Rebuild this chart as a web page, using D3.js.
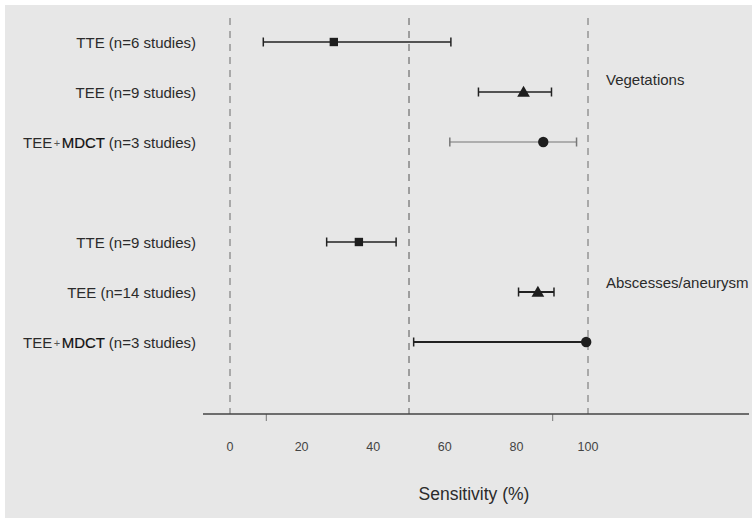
<!DOCTYPE html>
<html>
<head>
<meta charset="utf-8">
<script src="https://cdn.jsdelivr.net/npm/d3@7"></script>
<style>
  body { margin: 0; background: #fff; }
  text { font-family: "Liberation Sans", Arial, sans-serif; fill: #2b2b2b; }
</style>
</head>
<body>
<svg id="svg"></svg>
<script>
var width = 752, height = 519;

// rows, top group then bottom group
var labels = ["TTE (n=6 studies)", "TEE (n=9 studies)", "TEE+MDCT (n=3 studies)",
              "TTE (n=9 studies)", "TEE (n=14 studies)", "TEE+MDCT (n=3 studies)"];
var rowPos = [1, 2, 3, 5, 6, 7];
var estimate = [29, 82, 87.5, 36, 86, 99.5];
var lower = [9.3, 69.4, 61.4, 27, 80.6, 51.3];
var upper = [61.7, 89.8, 96.8, 46.4, 90.5, 99.5];
var markers = ["square", "triangle", "circle", "square", "triangle", "circle"];
var groups = ["Vegetations", "Abscesses/aneurysm"];
var groupRow = [1.75, 5.8];
var tickLabels = [0, 20, 40, 60, 80, 100];
var axisTicks = [10, 90];
var refLines = [0, 50, 100];

var svg = d3.select("#svg").attr("width", width).attr("height", height);

svg.append("rect").attr("x", 5).attr("y", 5).attr("width", width - 5).attr("height", height - 6)
    .attr("fill", "#e7e7e7");

var xScale = d3.scaleLinear().domain([0, 100]).range([230, 588]);
var yScale = d3.scaleLinear().domain([1, 7]).range([42, 342]);
var axisY = 414;

// dashed reference lines
svg.selectAll(".ref").data(refLines).enter().append("line")
    .attr("x1", d => xScale(d)).attr("x2", d => xScale(d))
    .attr("y1", 18).attr("y2", axisY)
    .attr("stroke", d => d == 50 ? "#555" : "#888")
    .attr("stroke-width", d => d == 50 ? 1 : 1.3)
    .attr("stroke-dasharray", "7,6");

// axis
var xAxis = svg.append("g").attr("transform", `translate(0, ${axisY})`)
    .call(d3.axisBottom(xScale).tickValues(axisTicks).tickSize(7).tickFormat(""));
xAxis.select(".domain").remove();
xAxis.selectAll(".tick line").attr("stroke", "#777");
svg.append("line").attr("x1", 203).attr("x2", 749).attr("y1", axisY).attr("y2", axisY)
    .attr("stroke", "#444").attr("stroke-width", 1.3);

svg.selectAll(".tl").data(tickLabels).enter().append("text")
    .attr("x", d => xScale(d)).attr("y", 451)
    .attr("text-anchor", "middle").attr("font-size", 12.5).style("fill", "#444")
    .text(d => d);

svg.append("text").attr("x", 474).attr("y", 500).attr("text-anchor", "middle")
    .attr("font-size", 17.5).text("Sensitivity (%)");

// row labels
labels.forEach((lab, i) => {
    var t = svg.append("text").attr("x", 196).attr("y", yScale(rowPos[i]) + 5.5)
        .attr("text-anchor", "end").attr("font-size", 15);
    if (lab.indexOf("+") >= 0) {
        var parts = lab.split("+");
        t.append("tspan").text(parts[0]);
        t.append("tspan").attr("font-size", 11).attr("dx", 1.5).attr("dy", -1).style("fill", "#555").text("+");
        t.append("tspan").attr("dx", 1.5).attr("dy", 1).style("fill", "#111")
            .style("stroke", "#111").style("stroke-width", 0.2)
            .text(parts[1].split(" ")[0]);
        t.append("tspan").text(" " + parts[1].split(" ").slice(1).join(" "));
    } else {
        t.text(lab);
    }
});

// group labels
svg.selectAll(".grp").data(groups).enter().append("text")
    .attr("x", 606).attr("y", (d, i) => yScale(groupRow[i]) + 5.5)
    .attr("font-size", 15).text(d => d);

// error bars
var lineColor = ["#222", "#222", "#777", "#222", "#222", "#222"];
var lineW = [1.3, 1.6, 1.2, 1.4, 2, 2.2];
rowPos.forEach((r, i) => {
    var y = yScale(r);
    var c = lineColor[i];
    svg.append("line").attr("x1", xScale(lower[i])).attr("x2", xScale(upper[i]))
        .attr("y1", y).attr("y2", y).attr("stroke", c).attr("stroke-width", lineW[i]);
    [lower[i], upper[i]].forEach(v => {
        svg.append("line").attr("x1", xScale(v)).attr("x2", xScale(v))
            .attr("y1", y - 4.5).attr("y2", y + 4.5).attr("stroke", c).attr("stroke-width", 1.5);
    });
});

// markers
var symType = { square: d3.symbolSquare, triangle: d3.symbolTriangle, circle: d3.symbolCircle };
var symSize = { square: 70, triangle: 70, circle: 85 };
svg.selectAll(".pt").data(estimate).enter().append("path")
    .attr("transform", (d, i) => `translate(${xScale(d)}, ${yScale(rowPos[i]) + (markers[i] == "triangle" ? 1 : 0)})`)
    .attr("d", (d, i) => d3.symbol().type(symType[markers[i]]).size(symSize[markers[i]])())
    .attr("fill", "#1e1e1e");
</script>
</body>
</html>
